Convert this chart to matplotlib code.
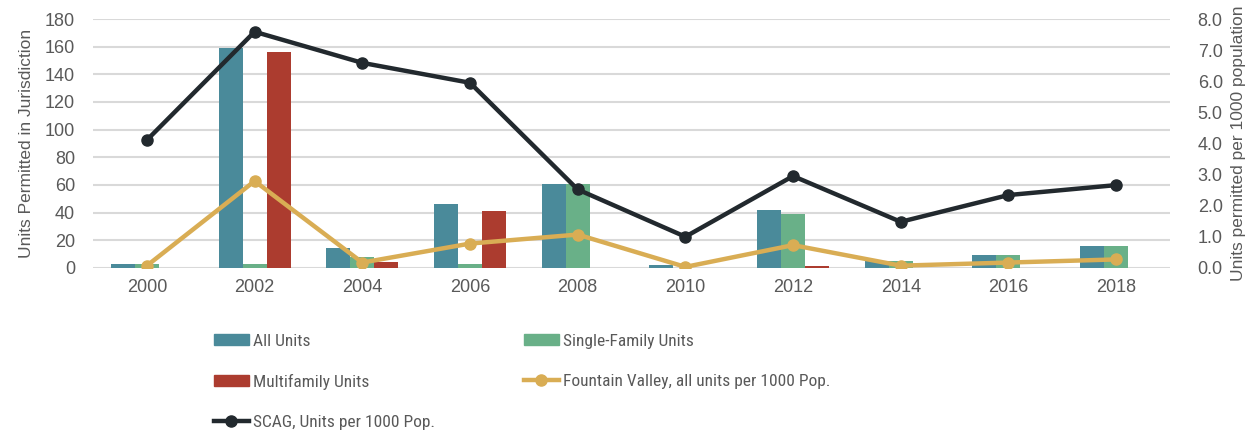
import matplotlib
matplotlib.use("Agg")
import matplotlib.pyplot as plt
import numpy as np
from matplotlib.ticker import FormatStrFormatter
from matplotlib.patches import Patch
from matplotlib.lines import Line2D
from matplotlib import font_manager

years = ["2000", "2002", "2004", "2006", "2008", "2010", "2012", "2014", "2016", "2018"]
all_units = [3, 159, 14, 46, 61, 2, 42, 5, 9, 16]
single_family = [3, 3, 8, 3, 61, 0, 39, 5, 9, 16]
multifamily = [0, 156, 4, 41, 0, 0, 1, 0, 0, 0]
fv_per_1000 = [0.07, 2.79, 0.17, 0.78, 1.07, 0.03, 0.73, 0.07, 0.17, 0.27]
scag_per_1000 = [4.11, 7.59, 6.59, 5.95, 2.52, 1.0, 2.95, 1.48, 2.34, 2.66]

C_ALL = "#4a8a9a"
C_SF = "#69b088"
C_MF = "#ac3c2f"
C_FV = "#d9ad54"
C_SCAG = "#22292e"
TXT = "#595959"

plt.rcParams['font.family'] = ['Liberation Sans', 'DejaVu Sans']
names = {f.name for f in font_manager.fontManager.ttflist}
LEG_FONT = ['Liberation Sans Narrow', 'Liberation Sans'] if 'Liberation Sans Narrow' in names else ['Roboto Condensed', 'Liberation Sans']

fig = plt.figure(figsize=(12.58, 4.32), dpi=100)
ax = fig.add_axes([0.074, 0.38, 0.856, 0.576])
x = np.arange(len(years))
w = 0.223
ax.bar(x - w, all_units, w, color=C_ALL, zorder=2)
ax.bar(x, single_family, w, color=C_SF, zorder=2)
ax.bar(x + w, multifamily, w, color=C_MF, zorder=2)
ax.set_ylim(0, 180)
ax.set_yticks(range(0, 181, 20))
ax.set_xlim(-0.5, len(years) - 0.5)
ax.set_xticks(x)
ax.set_xticklabels(years)
ax.grid(axis='y', color='#d9d9d9', linewidth=1.5, zorder=0)
ax.set_axisbelow(True)
for s in ax.spines.values():
    s.set_visible(False)
ax.tick_params(length=0, labelsize=13, colors=TXT, pad=8)
ax.tick_params(axis='y', pad=13)
ax.set_ylabel("Units Permitted in Jurisdiction", fontsize=12.5, color=TXT, labelpad=8)

ax2 = ax.twinx()
ax2.plot(x, fv_per_1000, color=C_FV, lw=3.2, marker='o', ms=8, zorder=3)
ax2.plot(x, scag_per_1000, color=C_SCAG, lw=3.2, marker='o', ms=8, zorder=4)
ax2.set_ylim(0, 8)
ax2.set_yticks(np.arange(0, 8.01, 1))
ax2.yaxis.set_major_formatter(FormatStrFormatter('%.1f'))
for s in ax2.spines.values():
    s.set_visible(False)
ax2.tick_params(length=0, labelsize=13, colors=TXT, pad=20)
ax2.set_ylabel("Units permitted per 1000 population", fontsize=12.5, color=TXT, labelpad=6)

col1 = [
    Patch(color=C_ALL, label="All Units"),
    Patch(color=C_MF, label="Multifamily Units"),
    Line2D([], [], color=C_SCAG, lw=3.2, marker='o', ms=8, label="SCAG, Units per 1000 Pop."),
]
col2 = [
    Patch(color=C_SF, label="Single-Family Units"),
    Line2D([], [], color=C_FV, lw=3.2, marker='o', ms=8, label="Fountain Valley, all units per 1000 Pop."),
]
kw = dict(loc='upper left', frameon=False, prop={'family': LEG_FONT, 'size': 12.5},
          handlelength=2.0, handleheight=0.55, handletextpad=0.25, labelspacing=1.45,
          borderaxespad=0, borderpad=0)
leg1 = fig.legend(handles=col1, bbox_to_anchor=(214 / 1258, 0.228), **kw)
leg2 = fig.legend(handles=col2, bbox_to_anchor=(524 / 1258, 0.228), **kw)
for lg in (leg1, leg2):
    for t in lg.get_texts():
        t.set_color(TXT)

fig.savefig("out.png", dpi=100)
